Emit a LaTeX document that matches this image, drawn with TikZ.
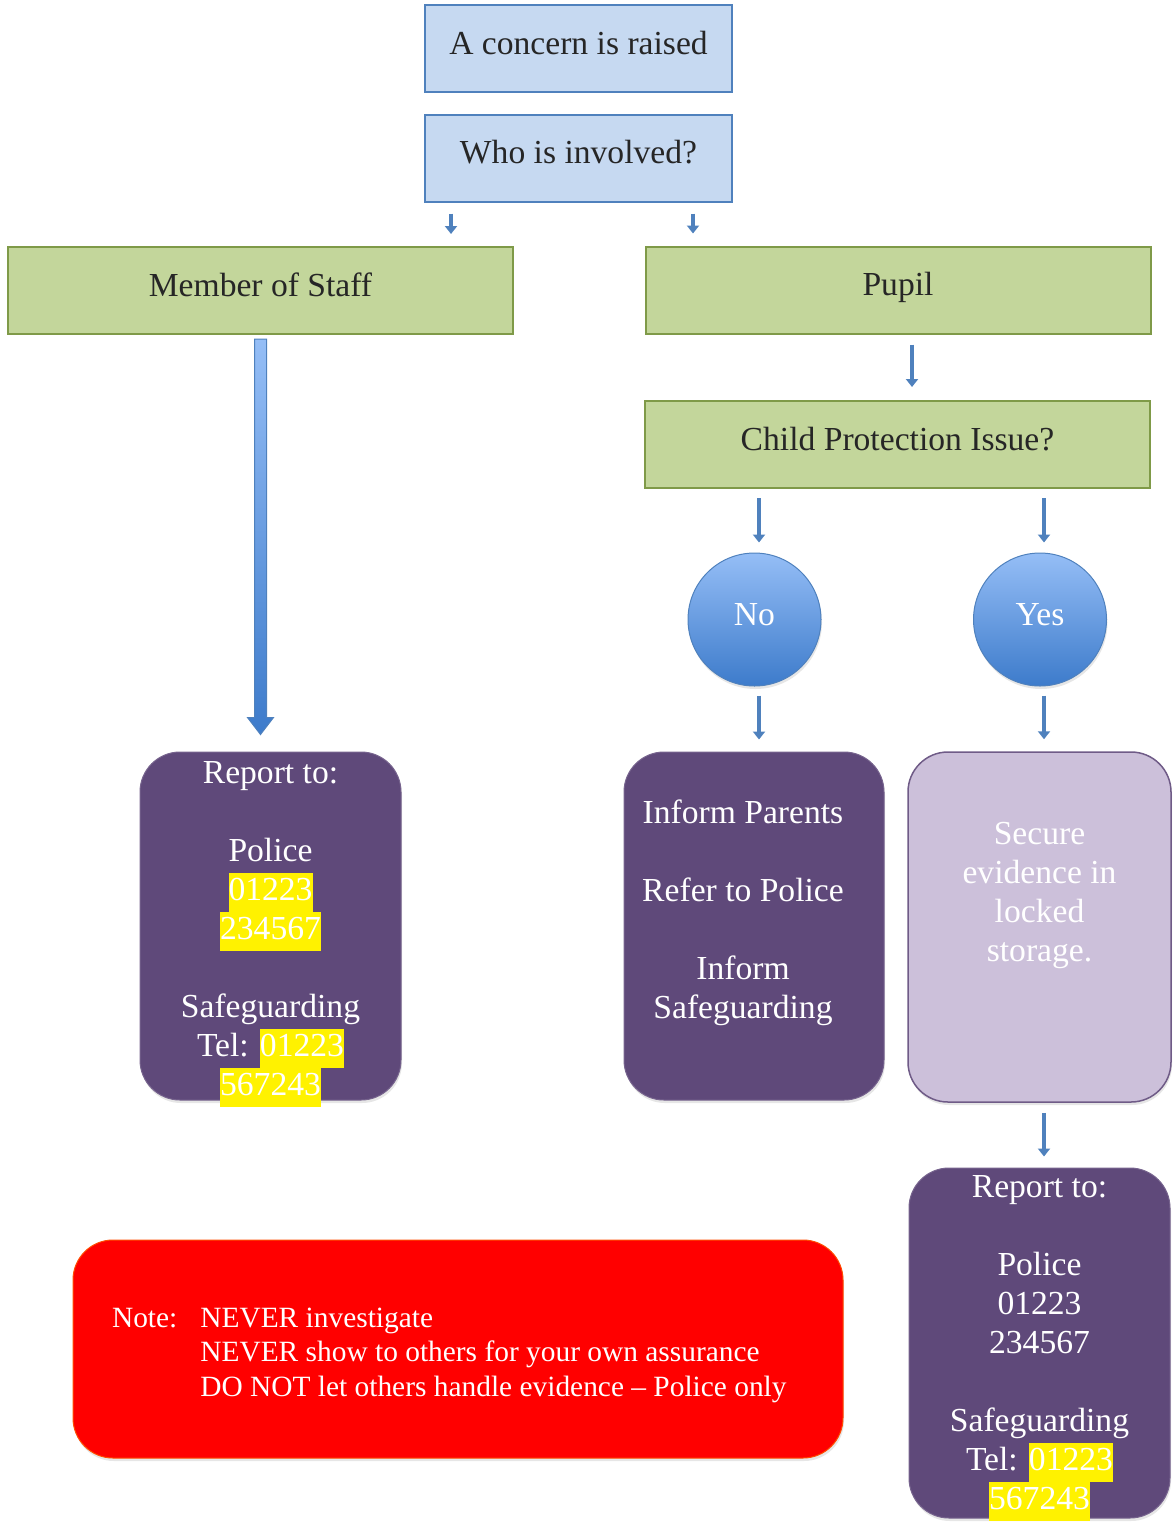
\documentclass[tikz,border=0pt]{standalone}
\usepackage{fontspec}
\setmainfont{Liberation Serif}
\usetikzlibrary{arrows.meta,shadows}
\definecolor{boxblue}{HTML}{C6D9F1}
\definecolor{lineblue}{HTML}{4F81BD}
\definecolor{boxgreen}{HTML}{C3D69B}
\definecolor{linegreen}{HTML}{7F9A48}
\definecolor{darkpurple}{HTML}{5F497A}
\definecolor{lightpurple}{HTML}{CCC0DA}
\definecolor{circtop}{HTML}{95BEF6}
\definecolor{circbot}{HTML}{3D7BCB}
\newcommand{\hlnum}[1]{{\setlength{\fboxsep}{0pt}\colorbox{yellow}{\strut#1}}}

\begin{document}
\begin{tikzpicture}[x=1pt,y=-1pt,
  bigfont/.style={font=\fontsize{33.6}{39}\selectfont},
  liftedtext/.style={text height=23pt,text depth=12pt},
  bluebox/.style={bigfont,liftedtext,draw=lineblue,line width=2pt,fill=boxblue,text=black!85,minimum width=307pt,minimum height=87pt},
  greenbox/.style={bigfont,liftedtext,draw=linegreen,line width=2pt,fill=boxgreen,text=black!85,minimum width=505pt,minimum height=87pt},
  softshadow/.style={drop shadow={opacity=0.2,shadow xshift=1pt,shadow yshift=-3pt}},
  answer/.style={bigfont,liftedtext,circle,draw=lineblue,line width=1pt,top color=circtop,bottom color=circbot,text=white,minimum size=133pt,softshadow},
  roundbox/.style={rounded corners=40pt,minimum width=261pt,minimum height=348pt,softshadow},
  darkbox/.style={roundbox,fill=darkpurple,draw=darkpurple!85,line width=1pt},
  lightbox/.style={roundbox,fill=lightpurple,draw=darkpurple!90,line width=1.5pt},
  whitetext/.style={bigfont,text=white,align=center},
  arr/.style={lineblue,line width=4.5pt,-{Triangle[width=12pt,length=8pt]}}
]
\useasboundingbox (0,0) rectangle (1173,1524);
%top
\node[bluebox] (raise) at (578.5,48.5) {A concern is raised};
\node[bluebox] (who) at (578.5,158) {Who is involved?};
\node[greenbox] (staff) at (260.5,290.5) {Member of Staff};
\node[greenbox] (pupil) at (898,290) {Pupil};
\node[greenbox] (cpi) at (897.5,444.5) {Child Protection Issue?};
\node[answer] (no) at (754.5,619.5) {No};
\node[answer] (yes) at (1040,619.5) {Yes};
%boxes
\node[darkbox] (reportL) at (270.5,926) {};
\node[whitetext] (reportLtext) at ([yshift=-8pt]reportL.center) {Report to:\\[39pt]Police\\\hlnum{01223}\\\hlnum{234567}\\[39pt]Safeguarding\\Tel: \hlnum{01223}\\\hlnum{567243}};
\node[darkbox,minimum width=260pt] (inform) at (754,926) {};
\node[whitetext] (informtext) at ([xshift=-11pt,yshift=13pt]inform.center) {Inform Parents\\[39pt]Refer to Police\\[39pt]Inform\\Safeguarding};
\node[lightbox,minimum width=263pt,minimum height=350pt] (secure) at (1039.5,927) {};
\node[whitetext] (securetext) at ([yshift=32pt]secure.center) {Secure\\evidence in\\locked\\storage.};
\node[darkbox,minimum height=350pt] (reportR) at (1039.5,1343) {};
\node[whitetext] (reportRtext) at ([yshift=-5pt]reportR.center) {Report to:\\[39pt]Police\\01223\\234567\\[39pt]Safeguarding\\Tel: \hlnum{01223}\\\hlnum{567243}};
%note
\node[rounded corners=40pt,fill=red,draw=orange!60!red,line width=1pt,minimum width=770pt,minimum height=218pt,softshadow] (note) at (458,1349) {};
\node[anchor=west,text=white,font=\fontsize{29.4}{34.5}\selectfont] (notetext) at ([xshift=36pt,yshift=-6pt]note.west)
  {\begin{tabular}{@{}l@{\hspace{23pt}}l@{}}Note: & NEVER investigate\\ & NEVER show to others for your own assurance\\ & DO NOT let others handle evidence -- Police only\end{tabular}};
%arrows
\path ([xshift=27pt]who.south west) coordinate (w1) ([xshift=-40pt]who.south east) coordinate (w2);
\draw[arr,shorten <=11pt,shorten >=12pt] (w1) -- (w1 |- staff.north);
\draw[arr,shorten <=11pt,shorten >=12pt] (w2) -- (w2 |- pupil.north);
\path ([xshift=14pt]pupil.south) coordinate (p1);
\draw[arr,shorten <=10pt,shorten >=13pt] (p1) -- (p1 |- cpi.north);
\path ([xshift=4.5pt]no.north) coordinate (n1) ([xshift=4pt]yes.north) coordinate (y1);
\draw[arr,shorten <=9pt,shorten >=10pt] (n1 |- cpi.south) -- (n1);
\draw[arr,shorten <=9pt,shorten >=10pt] (y1 |- cpi.south) -- (y1);
\path ([xshift=4.5pt]no.south) coordinate (n2) ([xshift=4pt]yes.south) coordinate (y2);
\draw[arr,shorten <=9pt,shorten >=12pt] (n2) -- (n2 |- inform.north);
\draw[arr,shorten <=9pt,shorten >=12pt] (y2) -- (y2 |- secure.north);
\path ([xshift=4.5pt]secure.south) coordinate (s1);
\draw[arr,shorten <=10pt,shorten >=11pt] (s1) -- (s1 |- reportR.north);
%long arrow
\path (staff.south) ++(0,4) coordinate (lTop);
\path (staff.south |- reportL.north) ++(0,-17) coordinate (lTip);
\shadedraw[top color=circtop,bottom color=circbot,draw=lineblue,line width=1pt]
  ([xshift=-6pt]lTop) -- ([xshift=6pt]lTop) -- ([xshift=6pt,yshift=17pt]lTip) -- ([xshift=13pt,yshift=17pt]lTip)
  -- (lTip) -- ([xshift=-13pt,yshift=17pt]lTip) -- ([xshift=-6pt,yshift=17pt]lTip) -- cycle;
\end{tikzpicture}
\end{document}
